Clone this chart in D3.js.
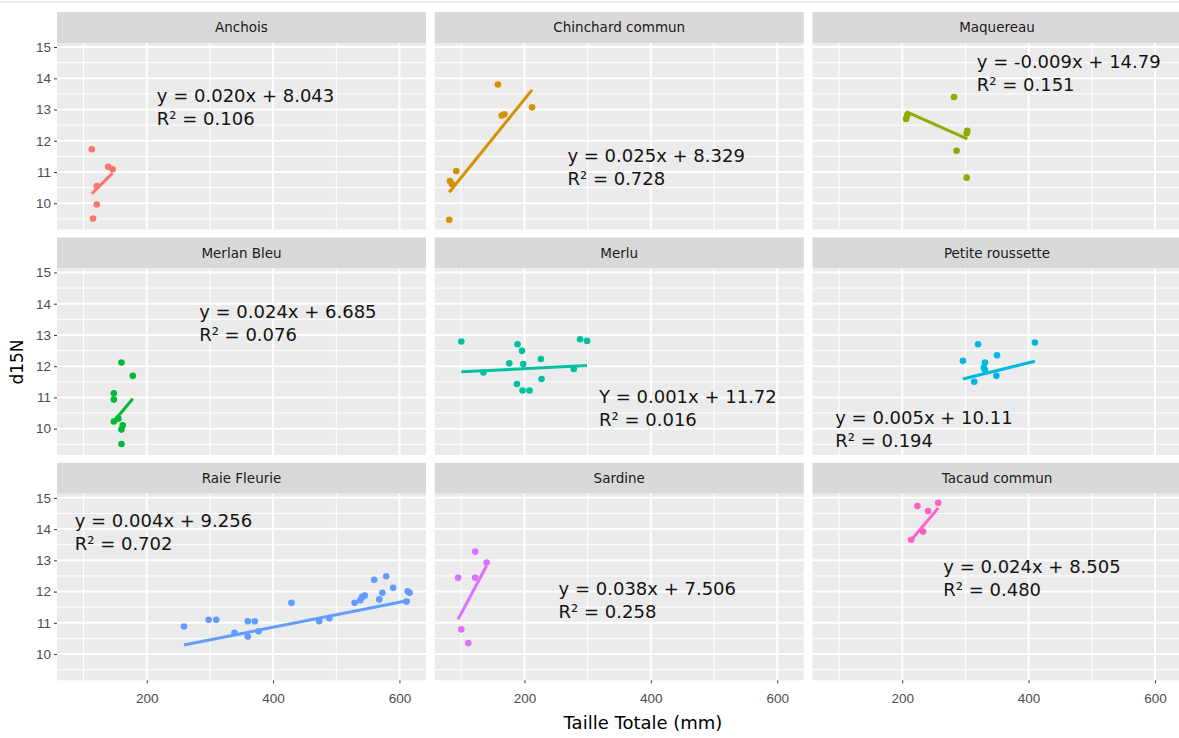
<!DOCTYPE html>
<html>
<head>
<meta charset="utf-8">
<script src="https://cdn.jsdelivr.net/npm/d3@7"></script>
<style>
  body { margin: 0; background: #ffffff; }
  svg { display: block; }
</style>
</head>
<body>
<svg id="chart" width="1179" height="738"></svg>
<script>
// Facet order (row by row)
const species = ["Anchois", "Chinchard commun", "Maquereau",
                 "Merlan Bleu", "Merlu", "Petite roussette",
                 "Raie Fleurie", "Sardine", "Tacaud commun"];
const speciesColors = ["#F8766D", "#D39200", "#93AA00",
                       "#00BA38", "#00C19F", "#00B9E3",
                       "#619CFF", "#DB72FB", "#FF61C3"];

// Total length (mm) and d15N per species
const anchoisTaille = [113, 139, 146, 121, 115, 121];
const anchoisD15N   = [11.73, 11.17, 11.09, 9.96, 9.51, 10.55];
const chinchardTaille = [158, 164, 168, 212, 92, 82, 85, 81];
const chinchardD15N   = [13.80, 12.81, 12.85, 13.07, 11.03, 10.71, 10.62, 9.47];
const maquereauTaille = [282, 206, 208, 303, 302, 286, 302];
const maquereauD15N   = [13.40, 12.70, 12.82, 12.32, 12.24, 11.68, 10.82];
const merlanTaille = [160, 178, 148, 148, 148, 155, 162, 160, 160];
const merlanD15N   = [12.12, 11.69, 11.13, 10.93, 10.23, 10.32, 10.11, 9.97, 9.51];
const merluTaille = [100, 135, 176, 189, 196, 198, 188, 197, 208, 226, 227, 278, 288, 299];
const merluD15N   = [12.79, 11.80, 12.09, 12.70, 12.49, 12.07, 11.43, 11.22, 11.22, 12.23, 11.59, 11.91, 12.86, 12.81];
const roussetteTaille = [320, 296, 350, 331, 329, 331, 349, 314, 410];
const roussetteD15N   = [12.70, 12.17, 12.35, 12.12, 11.96, 11.88, 11.69, 11.50, 12.76];
const raieTaille = [259, 298, 310, 339, 360, 360, 371, 377, 429, 473, 489, 529,
                    538, 541, 545, 560, 568, 573, 579, 590, 611, 613, 616];
const raieD15N   = [10.88, 11.10, 11.10, 10.68, 11.05, 10.56, 11.05, 10.73, 11.64, 11.05, 11.15, 11.64,
                    11.72, 11.83, 11.87, 12.38, 11.75, 11.96, 12.49, 12.12, 11.68, 12.01, 11.96];
const sardineTaille = [122, 140, 95, 122, 100, 111];
const sardineD15N   = [13.28, 12.93, 12.44, 12.44, 10.79, 10.35];
const tacaudTaille = [224, 257, 241, 233, 214];
const tacaudD15N   = [14.74, 14.84, 14.58, 13.92, 13.66];

const tailles = [anchoisTaille, chinchardTaille, maquereauTaille, merlanTaille, merluTaille,
                 roussetteTaille, raieTaille, sardineTaille, tacaudTaille];
const d15Ns = [anchoisD15N, chinchardD15N, maquereauD15N, merlanD15N, merluD15N,
               roussetteD15N, raieD15N, sardineD15N, tacaudD15N];

// Linear fits as annotated in each facet
const slopes     = [0.020, 0.025, -0.009, 0.024, 0.001, 0.005, 0.004, 0.038, 0.024];
const intercepts = [8.043, 8.329, 14.79, 6.685, 11.72, 10.11, 9.256, 7.506, 8.505];
const rSquared   = [0.106, 0.728, 0.151, 0.076, 0.016, 0.194, 0.702, 0.258, 0.480];
const eqSymbol   = ["y", "y", "y", "y", "Y", "y", "y", "y", "y"];
// Anchor of each equation, in data units (taille, d15N)
const eqAnchorX = [216, 268, 318, 283, 318, 94, 86, 254, 265];
const eqAnchorY = [13.23, 11.32, 14.32, 13.53, 10.82, 10.15, 14.07, 11.90, 12.61];

// Axes
const xDomain = [58, 642];
const yDomain = [9.16, 15.13];
const xTicks = [200, 400, 600];
const xMinorTicks = [100, 300, 500];
const yTicks = [10, 11, 12, 13, 14, 15];
const yMinorTicks = [9.5, 10.5, 11.5, 12.5, 13.5, 14.5];
const xTitle = "Taille Totale (mm)";
const yTitle = "d15N";

// Layout
const panelLeft0 = 57, colStep = 377.75, panelW = 369;
const panelTop0 = 43, rowStep = 225.4, panelH = 186.5, stripH = 31;

const svg = d3.select("#chart");
svg.append("rect").attr("width", 1179).attr("height", 738).attr("fill", "#ffffff");
svg.append("line").attr("x1", 0).attr("x2", 1179).attr("y1", 2).attr("y2", 2)
  .attr("stroke", "#e9e9e9").attr("stroke-width", 1.5);

const x = d3.scaleLinear().domain(xDomain).range([0, panelW]);
const y = d3.scaleLinear().domain(yDomain).range([panelH, 0]);

species.forEach((name, i) => {
  const col = i % 3, row = Math.floor(i / 3);
  const left = panelLeft0 + col * colStep;
  const top = panelTop0 + row * rowStep;
  const g = svg.append("g").attr("transform", `translate(${left},${top})`);
  const clipId = "clip" + i;
  g.append("clipPath").attr("id", clipId)
    .append("rect").attr("x", -4).attr("y", -4).attr("width", panelW + 8).attr("height", panelH + 8);

  // strip
  g.append("rect").attr("x", 0).attr("y", -stripH).attr("width", panelW).attr("height", stripH)
    .attr("fill", "#D9D9D9");
  g.append("text").attr("x", panelW / 2).attr("y", -stripH / 2).attr("dy", "0.35em")
    .attr("text-anchor", "middle").attr("font-family", "DejaVu Sans, sans-serif")
    .attr("font-size", 13.5).attr("fill", "#1A1A1A").text(name);

  // panel background and grid
  g.append("rect").attr("width", panelW).attr("height", panelH).attr("fill", "#EBEBEB");
  const grid = g.append("g");
  grid.selectAll(".ym").data(yMinorTicks).join("line")
    .attr("x1", 0).attr("x2", panelW).attr("y1", d => y(d)).attr("y2", d => y(d))
    .attr("stroke", "#ffffff").attr("stroke-width", 1);
  grid.selectAll(".xm").data(xMinorTicks).join("line")
    .attr("y1", 0).attr("y2", panelH).attr("x1", d => x(d)).attr("x2", d => x(d))
    .attr("stroke", "#ffffff").attr("stroke-width", 1);
  grid.selectAll(".yM").data(yTicks).join("line")
    .attr("x1", 0).attr("x2", panelW).attr("y1", d => y(d)).attr("y2", d => y(d))
    .attr("stroke", "#ffffff").attr("stroke-width", 2);
  grid.selectAll(".xM").data(xTicks).join("line")
    .attr("y1", 0).attr("y2", panelH).attr("x1", d => x(d)).attr("x2", d => x(d))
    .attr("stroke", "#ffffff").attr("stroke-width", 2);

  // axes on outer facets
  if (col === 0) {
    const ay = g.append("g").call(d3.axisLeft(y).tickValues(yTicks)
      .tickFormat(d3.format("d")).tickSize(3).tickPadding(3));
    ay.select(".domain").remove();
    ay.selectAll("line").attr("stroke", "#333333");
    ay.selectAll("text").attr("font-family", "Liberation Sans, Arial, sans-serif")
      .attr("font-size", 13.5).attr("fill", "#4D4D4D");
  }
  if (row === 2) {
    const ax = g.append("g").attr("transform", `translate(0,${panelH})`)
      .call(d3.axisBottom(x).tickValues(xTicks).tickSize(3).tickPadding(10));
    ax.select(".domain").remove();
    ax.selectAll("line").attr("stroke", "#333333");
    ax.selectAll("text").attr("font-family", "Liberation Sans, Arial, sans-serif")
      .attr("font-size", 13.5).attr("fill", "#4D4D4D");
  }

  // points
  const pts = tailles[i].map((t, k) => ({ t, n: d15Ns[i][k] }));
  const color = speciesColors[i];
  const marks = g.append("g").attr("clip-path", `url(#${clipId})`);

  // fitted line over the observed size range
  const [xmin, xmax] = d3.extent(tailles[i]);
  const fit = [xmin, xmax].map(t => ({ t, n: slopes[i] * t + intercepts[i] }));
  marks.append("path").datum(fit)
    .attr("d", d3.line().x(d => x(d.t)).y(d => y(d.n)))
    .attr("fill", "none").attr("stroke", color).attr("stroke-width", 3)
    .attr("stroke-linecap", "butt");

  marks.selectAll("circle").data(pts).join("circle")
    .attr("cx", d => x(d.t)).attr("cy", d => y(d.n)).attr("r", 3.3)
    .attr("fill", color);

  // equation annotation
  const eq = g.append("text")
    .attr("x", x(eqAnchorX[i])).attr("y", y(eqAnchorY[i]))
    .attr("font-family", "DejaVu Sans, Verdana, sans-serif")
    .attr("font-size", 18).attr("fill", "#141414");
  const sign = intercepts[i] < 0 ? " - " : " + ";
  eq.append("tspan").attr("x", x(eqAnchorX[i]))
    .text(`${eqSymbol[i]} = ${slopes[i].toFixed(3)}x${sign}${Math.abs(intercepts[i]).toPrecision(4)}`);
  eq.append("tspan").attr("x", x(eqAnchorX[i])).attr("dy", 23)
    .text(`R² = ${rSquared[i].toFixed(3)}`);
});

// axis titles
const plotCenterX = 643;
svg.append("text").attr("x", plotCenterX).attr("y", 729)
  .attr("text-anchor", "middle").attr("font-family", "DejaVu Sans, sans-serif")
  .attr("font-size", 18).attr("fill", "#000000").text(xTitle);
svg.append("text").attr("transform", "translate(23,362) rotate(-90)")
  .attr("text-anchor", "middle").attr("font-family", "DejaVu Sans, sans-serif")
  .attr("font-size", 17).attr("fill", "#000000").text(yTitle);
</script>
</body>
</html>
